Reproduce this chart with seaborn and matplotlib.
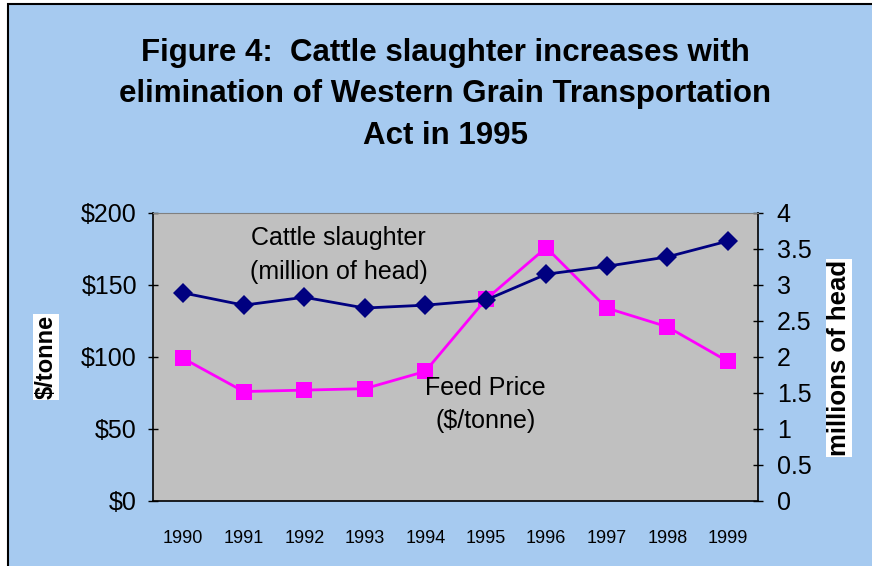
import pandas as pd
import matplotlib
matplotlib.use("Agg")
import matplotlib.pyplot as plt
import seaborn as sb
from matplotlib.patches import Rectangle

years = ["1990", "1991", "1992", "1993", "1994", "1995", "1996", "1997", "1998", "1999"]
feed_price = [99, 76, 77, 78, 90, 140, 176, 134, 121, 97]
cattle = [2.89, 2.72, 2.83, 2.68, 2.72, 2.79, 3.15, 3.26, 3.39, 3.61]

bg = "#A6CAF0"
sb.set_style("white")
plt.rcParams["font.family"] = ["Liberation Sans", "DejaVu Sans"]
plt.rcParams["text.color"] = "black"
plt.rcParams["xtick.color"] = "black"
plt.rcParams["ytick.color"] = "black"

df = pd.DataFrame({"year": years, "price": feed_price, "cattle": cattle})
df["pos"] = range(len(years))

fig = plt.figure(figsize=(8.72, 5.66), dpi=100)
fig.patch.set_facecolor("white")
fig.patches.append(Rectangle((8/872, -0.01), 1.0, 1 - 4/566 + 0.01, transform=fig.transFigure,
                             facecolor=bg, edgecolor="black", linewidth=1.5, zorder=-10))

ax = fig.add_axes([153/872, 65/566, 605/872, 288/566])
ax.set_facecolor("#C0C0C0")
ax2 = ax.twinx()

sb.lineplot(data=df, x="pos", y="price", ax=ax, color="#FF00FF", linewidth=2,
            marker="s", markersize=11, markeredgewidth=0)
sb.lineplot(data=df, x="pos", y="cattle", ax=ax2, color="#000080", linewidth=2,
            marker="D", markersize=10, markeredgewidth=0)

ax.set_xlim(-0.5, len(years) - 0.5)
ax.set_ylim(0, 200)
ax2.set_ylim(0, 4)
ax.set_yticks([0, 50, 100, 150, 200])
ax.set_yticklabels(["$0", "$50", "$100", "$150", "$200"], fontsize=18)
ax2.set_yticks([0, 0.5, 1, 1.5, 2, 2.5, 3, 3.5, 4])
ax2.set_yticklabels(["0", "0.5", "1", "1.5", "2", "2.5", "3", "3.5", "4"], fontsize=18)
ax.set_xticks(df["pos"])
ax.set_xticklabels(years, fontsize=13)
ax.set_xticks([i - 0.5 for i in range(len(years) + 1)], minor=True)
ax.tick_params(axis="x", which="major", length=0, pad=21)
ax.tick_params(axis="x", which="minor", length=7, direction="inout", width=1)
ax.tick_params(axis="y", length=7, direction="inout", width=1, pad=8)
ax2.tick_params(axis="y", length=7, direction="inout", width=1, pad=10)
ax.set_xlabel("")
ax.set_ylabel("")
ax2.set_ylabel("")

for a in (ax, ax2):
    for s in a.spines.values():
        s.set_visible(False)
ax.spines["left"].set_visible(True)
ax.spines["bottom"].set_visible(True)
ax2.spines["right"].set_visible(True)
ax2.spines["top"].set_visible(True)
ax2.spines["top"].set_color("#808080")
for s in (ax.spines["left"], ax.spines["bottom"], ax2.spines["right"]):
    s.set_color("black")
    s.set_linewidth(1.2)

ax.text(2.57, 171, "Cattle slaughter\n(million of head)", fontsize=18, ha="center", va="center",
        linespacing=1.5)
ax.text(4.99, 67, "Feed Price\n($/tonne)", fontsize=18, ha="center", va="center",
        linespacing=1.5)

fig.text(46/872, 1 - 357/566, "$/tonne", rotation=90, fontsize=17, fontweight="bold",
         ha="center", va="center", bbox=dict(facecolor="white", edgecolor="none", pad=1))
fig.text(839/872, 1 - 358/566, "millions of head", rotation=90, fontsize=18.5, fontweight="bold",
         ha="center", va="center", bbox=dict(facecolor="white", edgecolor="none", pad=1))

fig.text(445/872, 1 - 94/566,
         "Figure 4:  Cattle slaughter increases with\nelimination of Western Grain Transportation\nAct in 1995",
         fontsize=22.5, fontweight="bold", ha="center", va="center", linespacing=1.5)

fig.savefig("out.png", dpi=100, facecolor=fig.get_facecolor())
